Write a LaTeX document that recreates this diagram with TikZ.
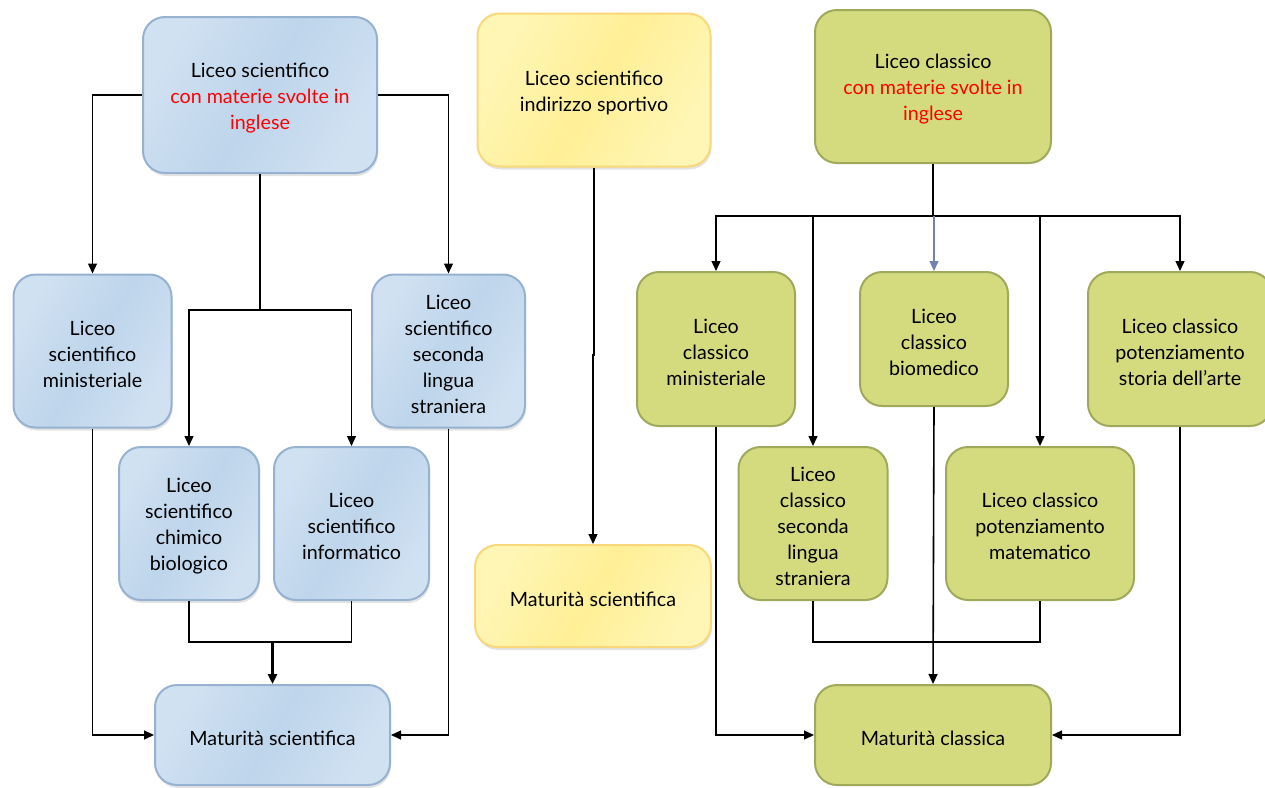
\documentclass[tikz,border=0pt]{standalone}
\usepackage{fontspec}
\setmainfont{Lato}
\usetikzlibrary{arrows.meta,shadows}
\definecolor{bfillL}{RGB}{208,225,242}
\definecolor{bfillM}{RGB}{190,213,235}
\definecolor{bdraw}{RGB}{150,178,208}
\definecolor{yfillL}{RGB}{255,246,182}
\definecolor{yfillM}{RGB}{255,239,150}
\definecolor{ydraw}{RGB}{248,216,122}
\definecolor{gfill}{RGB}{211,219,126}
\definecolor{gdraw}{RGB}{160,168,92}
\definecolor{arrowblue}{RGB}{118,128,178}
\tikzset{
  box/.style={rounded corners=22pt, line width=2pt, inner sep=0pt},
  txt/.style={align=center, inner sep=0pt, font=\fontsize{19.7}{26}\selectfont},
  shad/.style={drop shadow={shadow xshift=1pt, shadow yshift=-3pt, opacity=0.22}},
  bluebox/.style={box, shad, draw=bdraw, left color=bfillL, right color=bfillL, middle color=bfillM, shading angle=60},
  yellowbox/.style={box, shad, draw=ydraw, left color=yfillL, right color=yfillL, middle color=yfillM, shading angle=60},
  greenbox/.style={box, draw=gdraw, fill=gfill},
  conn/.style={line width=1.3pt, draw=black},
  thickconn/.style={line width=2.6pt, draw=black},
  arr/.style={-{Triangle[length=10pt,width=9pt]}},
}
\newcommand{\boxtext}[2]{\node[txt] (#1-t) at ([yshift=-3pt]#1.center) {#2};}
\begin{document}
\begin{tikzpicture}[x=1pt,y=-1pt]
\useasboundingbox (0,0) rectangle (1265,787);
% ---------- left (blue) ----------
\node[bluebox, minimum width=234pt, minimum height=156pt] (ls) at (260,95) {};
\boxtext{ls}{Liceo scientifico\\ \textcolor{red}{con materie svolte in}\\ \textcolor{red}{inglese}}
\node[bluebox, minimum width=158pt, minimum height=153pt] (lm) at (92.5,351) {};
\boxtext{lm}{Liceo\\ scientifico\\ ministeriale}
\node[bluebox, minimum width=153pt, minimum height=153pt] (lsl) at (448.5,351) {};
\boxtext{lsl}{Liceo\\ scientifico\\ seconda\\ lingua\\ straniera}
\node[bluebox, minimum width=140pt, minimum height=153pt] (lcb) at (189,523.5) {};
\boxtext{lcb}{Liceo\\ scientifico\\ chimico\\ biologico}
\node[bluebox, minimum width=155pt, minimum height=153pt] (lin) at (351.5,523.5) {};
\boxtext{lin}{Liceo\\ scientifico\\ informatico}
\node[bluebox, minimum width=235pt, minimum height=100pt] (ms) at (272.5,735) {};
\boxtext{ms}{Maturità scientifica}
\coordinate (lj) at (260,310);
\coordinate (lmj) at (272.5,642);
\draw[conn,arr] (ls.west) -| (lm.north);
\draw[conn,arr] (ls.east) -| (lsl.north);
\draw[thickconn] (ls.south) -- (lj);
\draw[conn,arr] (lj) -| (lcb.north);
\draw[conn,arr] (lj) -| (lin.north);
\draw[conn] (lcb.south) |- (lmj) -| (lin.south);
\draw[thickconn,arr] (lmj) -- (ms.north);
\draw[conn,arr] (lm.south) |- (ms.west);
\draw[conn,arr] (lsl.south) |- (ms.east);
% ---------- middle (yellow) ----------
\node[yellowbox, minimum width=233pt, minimum height=153pt] (ys) at (594,90) {};
\boxtext{ys}{Liceo scientifico\\ indirizzo sportivo}
\node[yellowbox, minimum width=236pt, minimum height=102pt] (ym) at (593,596) {};
\boxtext{ym}{Maturità scientifica}
\coordinate (yj) at (594,355);
\draw[conn,arr] (ys.south) -- (yj) -| (ym.north);
% ---------- right (green) ----------
\node[greenbox, minimum width=236pt, minimum height=153pt] (lc) at (933,86.5) {};
\boxtext{lc}{Liceo classico\\ \textcolor{red}{con materie svolte in}\\ \textcolor{red}{inglese}}
\node[greenbox, minimum width=158pt, minimum height=154pt] (c1) at (716,349) {};
\boxtext{c1}{Liceo\\ classico\\ ministeriale}
\node[greenbox, minimum width=148pt, minimum height=134pt] (c3) at (934,339) {};
\boxtext{c3}{Liceo\\ classico\\ biomedico}
\node[greenbox, minimum width=184pt, minimum height=154pt] (c5) at (1180,349) {};
\boxtext{c5}{Liceo classico\\ potenziamento\\ storia dell’arte}
\node[greenbox, minimum width=149pt, minimum height=153pt] (c2) at (813,523.5) {};
\boxtext{c2}{Liceo\\ classico\\ seconda\\ lingua\\ straniera}
\node[greenbox, minimum width=188pt, minimum height=153pt] (c4) at (1040,523.5) {};
\boxtext{c4}{Liceo classico\\ potenziamento\\ matematico}
\node[greenbox, minimum width=236pt, minimum height=100pt] (mc) at (933,735) {};
\boxtext{mc}{Maturità classica}
\coordinate (rj) at (934,216);
\coordinate (rmj) at (934,642);
\draw[thickconn] (lc.south) -- (lc.south |- rj);
\draw[conn,arr] (rj) -| (c1.north);
\draw[conn,arr] (rj) -| (c2.north);
\draw[conn,arr] (rj) -| (c4.north);
\draw[conn,arr] (rj) -| (c5.north);
\draw[conn,draw=arrowblue,-{Triangle[length=10pt,width=9pt,fill=arrowblue]}] (rj) -- (c3.north);
\draw[conn] (c2.south) |- (rmj) -| (c4.south);
\draw[conn,line width=1.6pt,arr] (c3.south) -- (mc.north);
\draw[conn,arr] (c1.south) |- (mc.west);
\draw[conn,arr] (c5.south) |- (mc.east);
\end{tikzpicture}
\end{document}
